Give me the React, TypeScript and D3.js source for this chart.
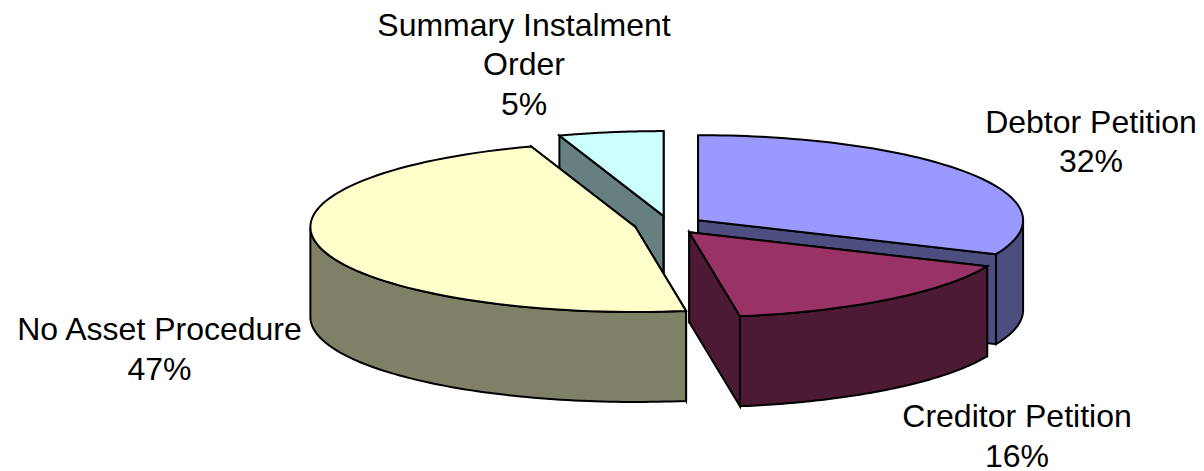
import React from "react";
import * as d3 from "d3";

const categories = ["Debtor Petition", "Creditor Petition", "No Asset Procedure", "Summary Instalment Order"];
const shares = [32, 16, 47, 5];
const topColors = ["#9999FF", "#993366", "#FFFFCC", "#CCFFFF"];
const wallColors = ["#4D4D80", "#4D1A33", "#808066", "#668080"];
const nameLines = [["Debtor Petition"], ["Creditor Petition"], ["No Asset Procedure"], ["Summary Instalment", "Order"]];
const labelAnchors = [[1091, 132.5], [1017, 427], [159.5, 340], [524, 35.5]];
const paintOrder = [3, 0, 2, 1];

const WIDTH = 1204;
const HEIGHT = 471;
const CX = 669;
const CY = 225;
const RX = 325;
const RY = 85;
const DEPTH = 90;
const EXPLODE = 0.106;
const LINE_STEP = 39.5;
// Small angular shift of the tilted projection, in radians.
const TILT_SHIFT = 0.031;

type Pt = [number, number];

export default function App() {
  const arcs = d3.pie<number>().sort(null)(shares);
  const xScale = d3.scaleLinear().domain([-1, 1]).range([-RX, RX]);
  const yScale = d3.scaleLinear().domain([-1, 1]).range([-RY, RY]);
  const line = d3.line<Pt>();

  const tilt = (a: number) => a - TILT_SHIFT * Math.sqrt(Math.abs(Math.sin(a / 2)));
  const onRim = (c: Pt, a: number): Pt => [c[0] + xScale(Math.sin(a)), c[1] + yScale(-Math.cos(a))];
  const sample = (c: Pt, a0: number, a1: number): Pt[] =>
    d3.range(0, 81).map((i) => onRim(c, a0 + ((a1 - a0) * i) / 80));

  const slices = arcs.map((arc, i) => {
    const mid = (arc.startAngle + arc.endAngle) / 2;
    const start = tilt(arc.startAngle);
    const end = tilt(arc.endAngle);
    const c: Pt = [CX + xScale(Math.sin(mid) * EXPLODE), CY + yScale(-Math.cos(mid) * EXPLODE)];
    const below = (p: Pt): Pt => [p[0], p[1] + DEPTH];
    const top = `${line([c, ...sample(c, start, end)])}Z`;
    const sides = [start, end].map((a) => {
      const r = onRim(c, a);
      return `${line([c, r, below(r), below(c)])}Z`;
    });
    // Only the part of the rim facing the viewer gets an outer wall.
    const f0 = Math.max(start, Math.PI / 2);
    const f1 = Math.min(end, (3 * Math.PI) / 2);
    const outer = f1 > f0
      ? (() => {
          const rim = sample(c, f0, f1);
          return `${line([...rim, ...rim.slice().reverse().map(below)])}Z`;
        })()
      : null;
    return { i, top, sides, outer };
  });

  return (
    <svg
      width={WIDTH}
      height={HEIGHT}
      style={{ position: "absolute", left: 0, top: 0, background: "#fff" }}
      fontFamily="'Liberation Sans', Arial, sans-serif"
      fontSize={32}
    >
      {paintOrder.map((k) => {
        const s = slices[k];
        const common = { stroke: "#000", strokeWidth: 2, strokeLinejoin: "miter" as const };
        return (
          <g key={categories[k]}>
            {s.sides.map((d, j) => (
              <path key={j} d={d} fill={wallColors[k]} {...common} />
            ))}
            {s.outer && <path d={s.outer} fill={wallColors[k]} {...common} />}
            <path d={s.top} fill={topColors[k]} {...common} />
          </g>
        );
      })}
      {nameLines.map((lines, k) => (
        <text key={k} x={labelAnchors[k][0]} y={labelAnchors[k][1]} textAnchor="middle" fill="#000">
          {[...lines, `${shares[k]}%`].map((t, j) => (
            <tspan key={j} x={labelAnchors[k][0]} dy={j === 0 ? 0 : LINE_STEP}>
              {t}
            </tspan>
          ))}
        </text>
      ))}
    </svg>
  );
}
